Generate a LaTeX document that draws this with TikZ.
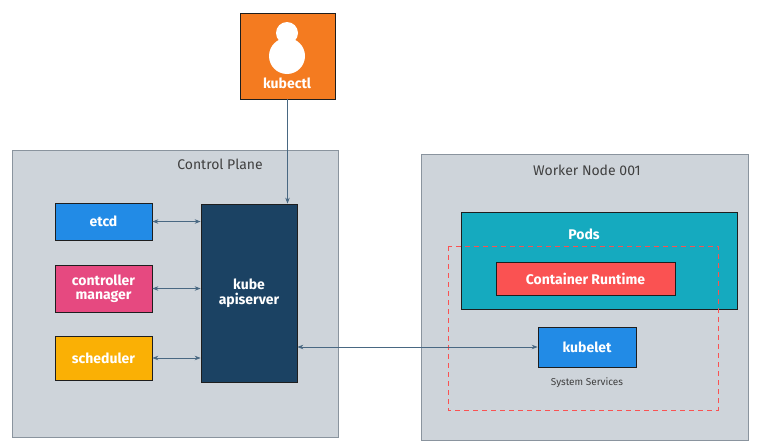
\documentclass[tikz,border=0pt]{standalone}
\usepackage{fontspec}
\setmainfont{Fira Sans}
\usetikzlibrary{arrows.meta}
\definecolor{panel}{HTML}{CED4DA}
\definecolor{panelb}{HTML}{8A949E}
\definecolor{orng}{HTML}{F47B20}
\definecolor{blu}{HTML}{228BE6}
\definecolor{pnk}{HTML}{E64980}
\definecolor{ylw}{HTML}{FAB005}
\definecolor{navy}{HTML}{1B4263}
\definecolor{teal}{HTML}{15AABF}
\definecolor{rd}{HTML}{FA5252}
\definecolor{edge}{HTML}{1E1E1E}
\tikzset{
 box/.style={draw=edge,line width=0.7pt,font=\fontsize{14}{15}\selectfont\bfseries,text=white,align=center,inner sep=0pt},
 panelbox/.style={draw=panelb,fill=panel,line width=0.7pt},
 arr/.style={draw=navy!80,line width=0.8pt,-{Stealth[length=6pt]}},
 darr/.style={draw=navy!80,line width=0.8pt,{Stealth[length=6pt]}-{Stealth[length=6pt]}},
 ttl/.style={font=\fontsize{14}{16}\selectfont,text=black!75}
}
\begin{document}
\begin{tikzpicture}[x=1pt,y=-1pt]
\useasboundingbox (0,0) rectangle (768,447);
\draw[panelbox] (12,150) rectangle (338,437);
\node[ttl] (cpt) at (220,164) {Control Plane};
\draw[panelbox] (421,154) rectangle (748,440);
\node[ttl] (wnt) at (587,170) {Worker Node 001};
% kubectl
\node[box,fill=orng,minimum width=95pt,minimum height=86pt] (kubectl) at (287.5,56) {};
\fill[white] (287,33) circle (11);
\fill[white] (287,56) circle (18);
\node[font=\fontsize{14}{15}\selectfont\bfseries,text=white] (kl) at (287,83) {kubectl};
% control plane boxes
\node[box,fill=blu,minimum width=97pt,minimum height=37pt] (etcd) at (103.5,221.5) {etcd};
\node[box,fill=pnk,minimum width=97pt,minimum height=47pt] (cm) at (103.5,288.5) {controller\\[-1pt]manager};
\node[box,fill=ylw,minimum width=97pt,minimum height=44pt] (sch) at (103.5,358) {scheduler};
\node[box,fill=navy,minimum width=96pt,minimum height=178pt] (api) at (249,293) {kube\\apiserver};
% worker
\node[box,fill=teal,minimum width=276pt,minimum height=97pt] (pods) at (599,260.5) {};
\node[font=\fontsize{14}{15}\selectfont\bfseries,text=white] (podst) at (584,234) {Pods};
\node[box,fill=rd,minimum width=179pt,minimum height=33pt] (cr) at (585.5,278.5) {Container Runtime};
\draw[rd,line width=0.8pt,dash pattern=on 5pt off 4pt] (448,246) rectangle (718,410);
\node[box,fill=blu,minimum width=98pt,minimum height=40pt] (kubelet) at (587,347) {kubelet};
\node[font=\fontsize{10}{12}\selectfont,text=black!75] (ss) at (587,383) {System Services};
% arrows
\draw[arr] (kubectl.south) -- (api.north -| kubectl.south);
\draw[darr] (etcd.east) -- (api.west |- etcd.east);
\draw[darr] (cm.east) -- (api.west |- cm.east);
\draw[darr] (sch.east) -- (api.west |- sch.east);
\draw[darr] (api.east |- kubelet.west) -- (kubelet.west);
\end{tikzpicture}
\end{document}
